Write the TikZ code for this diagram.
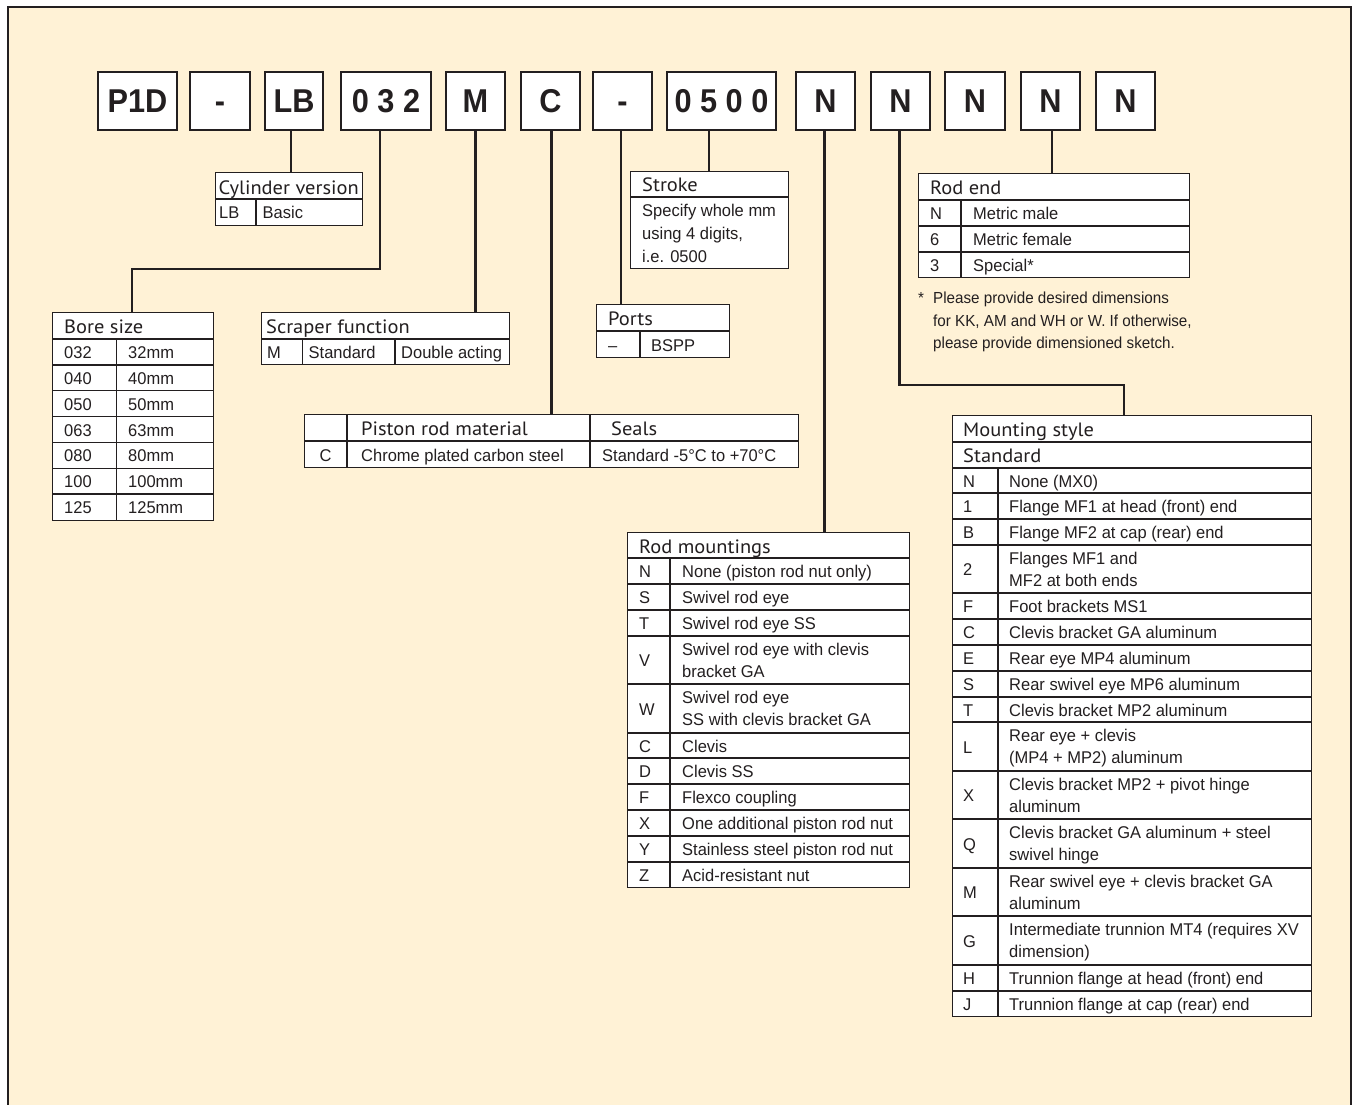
\documentclass[tikz,border=0pt]{standalone}
\usepackage{fontspec}
\newfontfamily\bodyf{Liberation Sans}[FakeStretch=0.97]
\newfontfamily\notef{Liberation Sans}[FakeStretch=0.95]
\newfontfamily\headf{PT Sans}[FakeStretch=1.06]
\newfontfamily\codef{Liberation Sans}[FakeStretch=0.93]
\definecolor{cream}{RGB}{255,242,214}
\definecolor{ink}{RGB}{35,31,32}
\newcounter{tc}
\newcommand\Tx[3]{\stepcounter{tc}\node[txt] (tx\arabic{tc}) at (#1,#2) {#3};}
\newcommand\Nt[3]{\stepcounter{tc}\node[ntxt] (tx\arabic{tc}) at (#1,#2) {#3};}
\newcommand\Hd[3]{\stepcounter{tc}\node[hdt] (tx\arabic{tc}) at (#1,#2) {#3};}
\tikzset{
  txt/.style={anchor=base west, inner sep=0pt, font=\bodyf\fontsize{17}{20}\selectfont, text=ink},
  ntxt/.style={anchor=base west, inner sep=0pt, font=\notef\fontsize{16}{19}\selectfont, text=ink},
  hdt/.style={anchor=base west, inner sep=0pt, font=\headf\fontsize{19.3}{22}\selectfont, text=ink},
  codebox/.style={draw=ink, line width=1.4pt, fill=white, minimum height=58pt, inner sep=0pt,
    font=\codef\bfseries\fontsize{33}{36}\selectfont, text=ink},
  tbl/.style={draw=ink, line width=1.3pt, fill=white, anchor=north west, inner sep=0pt},
  tl/.style={draw=ink, line width=1.3pt},
  con/.style={draw=ink, line width=2.6pt},
}
\begin{document}
\begin{tikzpicture}[x=1pt,y=-1pt]
\useasboundingbox (0,0) rectangle (1353,1105);
\fill[cream] (8,7) rectangle (1351,1120);
\draw[ink, line width=2pt] (8,1120) -- (8,7) -- (1351,7) -- (1351,1120);

% ---------- code boxes ----------
\node[codebox, minimum width=79pt]  (p1d)  at (137.5,101) {P1D\vphantom{P}};
\node[codebox, minimum width=60pt]  (d1)   at (220,101)   {-\vphantom{P}};
\node[codebox, minimum width=58pt]  (lb)   at (294,101)   {LB\vphantom{P}};
\node[codebox, minimum width=90pt]  (bore) at (386,101)   {0 3 2\vphantom{P}};
\node[codebox, minimum width=59pt]  (m)    at (475.5,101) {M\vphantom{P}};
\node[codebox, minimum width=59pt]  (c)    at (550.5,101) {C\vphantom{P}};
\node[codebox, minimum width=59pt]  (d2)   at (622.5,101) {-\vphantom{P}};
\node[codebox, minimum width=109pt] (strk) at (721.5,101) {0 5 0 0\vphantom{P}};
\node[codebox, minimum width=59pt]  (n1)   at (825.5,101) {N};
\node[codebox, minimum width=59pt]  (n2)   at (900.5,101) {N};
\node[codebox, minimum width=60pt]  (n3)   at (975,101)   {N};
\node[codebox, minimum width=59pt]  (n4)   at (1050.5,101){N};
\node[codebox, minimum width=59pt]  (n5)   at (1125.5,101){N};

% ---------- table outlines ----------
\node[tbl, minimum width=147pt, minimum height=53pt]  (cyl)   at (215,172) {};
\node[tbl, minimum width=158pt, minimum height=97pt]  (stk)   at (630,171) {};
\node[tbl, minimum width=271pt, minimum height=104pt] (rend)  at (918,173) {};
\node[tbl, minimum width=133pt, minimum height=53pt]  (ports) at (596,304) {};
\node[tbl, minimum width=161pt, minimum height=208pt] (bst)   at (52,312)  {};
\node[tbl, minimum width=248pt, minimum height=52pt]  (scr)   at (261,312) {};
\node[tbl, minimum width=494pt, minimum height=53pt]  (prm)   at (304,414) {};
\node[tbl, minimum width=282pt, minimum height=355pt] (rmt)   at (627,532) {};
\node[tbl, minimum width=359pt, minimum height=601pt] (mst)   at (952,415) {};

% ---------- connectors ----------
\coordinate (k1) at (380,269);
\coordinate (k2) at (132,269);
\coordinate (k3) at (899.5,385);
\coordinate (k4) at (1124,385);
\draw[con] ([xshift=-3pt]lb.south) -- ([xshift=-3pt]lb.south |- cyl.north);
\draw[con] ([xshift=-6pt]bore.south) -- (k1) -- (k2) -- (k2 |- bst.north);
\draw[con] (m.south) -- (m.south |- scr.north);
\draw[con] ([xshift=1pt]c.south) -- ([xshift=1pt]c.south |- prm.north);
\draw[con] ([xshift=-1.5pt]d2.south) -- ([xshift=-1.5pt]d2.south |- ports.north);
\draw[con] ([xshift=-12.5pt]strk.south) -- ([xshift=-12.5pt]strk.south |- stk.north);
\draw[con] ([xshift=-1pt]n1.south) -- ([xshift=-1pt]n1.south |- rmt.north);
\draw[con] ([xshift=-1pt]n2.south) -- (k3) -- (k4) -- (k4 |- mst.north);
\draw[con] ([xshift=1.5pt]n4.south) -- ([xshift=1.5pt]n4.south |- rend.north);

% ---------- Cylinder version ----------
\draw[tl] (215,199) -- (362,199);
\draw[tl] (256,199) -- (256,225);
\Hd{218.5}{195}{Cylinder version}
\Tx{219}{218.5}{LB}
\Tx{262.5}{218.5}{Basic}

% ---------- Stroke ----------
\draw[tl] (630,197) -- (788,197);
\Hd{642}{192}{Stroke}
\Tx{642}{216.5}{Specify whole mm}
\Tx{642}{239.5}{using 4 digits,}
\Tx{642}{262.5}{i.e. 0500}

% ---------- Rod end ----------
\draw[tl] (918,200) -- (1189,200);
\draw[tl] (918,226) -- (1189,226);
\draw[tl] (918,252) -- (1189,252);
\draw[tl] (961,200) -- (961,277);
\Hd{930}{194.5}{Rod end}
\Tx{930}{219.5}{N}   \Tx{973}{219.5}{Metric male}
\Tx{930}{245.5}{6}   \Tx{973}{245.5}{Metric female}
\Tx{930}{271}{3}     \Tx{973}{271}{Special*}
\Nt{918}{303}{*}
\Nt{933}{303}{Please provide desired dimensions}
\Nt{933}{326}{for KK, AM and WH or W. If otherwise,}
\Nt{933}{348}{please provide dimensioned sketch.}

% ---------- Ports ----------
\draw[tl] (596,331) -- (729,331);
\draw[tl] (640,331) -- (640,357);
\Hd{608}{325}{Ports}
\Tx{608}{351}{–}
\Tx{651}{351}{BSPP}

% ---------- Bore size ----------
\draw[tl] (52,339) -- (213,339);
\foreach \yy in {364.9,390.7,416.6,442.4,468.3,494.1} {\draw[tl] (52,\yy) -- (213,\yy);}
\draw[tl] (116.5,339) -- (116.5,520);
\Hd{64}{333}{Bore size}
\Tx{64}{358.4}{032} \Tx{128}{358.4}{32mm}
\Tx{64}{384.3}{040} \Tx{128}{384.3}{40mm}
\Tx{64}{410.1}{050} \Tx{128}{410.1}{50mm}
\Tx{64}{436}{063}   \Tx{128}{436}{63mm}
\Tx{64}{461.9}{080} \Tx{128}{461.9}{80mm}
\Tx{64}{487.7}{100} \Tx{128}{487.7}{100mm}
\Tx{64}{513.6}{125} \Tx{128}{513.6}{125mm}

% ---------- Scraper function ----------
\draw[tl] (261,339) -- (509,339);
\draw[tl] (302.5,339) -- (302.5,364);
\draw[tl] (395,339) -- (395,364);
\Hd{266}{333}{Scraper function}
\Tx{267}{358.5}{M}
\Tx{308.5}{358.5}{Standard}
\Tx{401}{358.5}{Double acting}

% ---------- Piston rod material ----------
\draw[tl] (304,441) -- (798,441);
\draw[tl] (347,414) -- (347,467);
\draw[tl] (590,414) -- (590,467);
\Hd{361}{435.5}{Piston rod material}
\Hd{611}{435.5}{Seals}
\stepcounter{tc}\node[txt, anchor=base] (tx\arabic{tc}) at (325.5,461.5) {C};
\Tx{361}{461.5}{Chrome plated carbon steel}
\Tx{602}{461.5}{Standard -5°C to +70°C}

% ---------- Rod mountings ----------
\draw[tl] (627,558) -- (909,558);
\foreach \yy in {584,610,636,684,733,758,784,810,836,862} {\draw[tl] (627,\yy) -- (909,\yy);}
\draw[tl] (670,558) -- (670,887);
\Hd{639}{553}{Rod mountings}
\Tx{639}{577.5}{N} \Tx{682}{577.5}{None (piston rod nut only)}
\Tx{639}{603.5}{S} \Tx{682}{603.5}{Swivel rod eye}
\Tx{639}{629.5}{T} \Tx{682}{629.5}{Swivel rod eye SS}
\Tx{639}{666.5}{V} \Tx{682}{655}{Swivel rod eye with clevis} \Tx{682}{677}{bracket GA}
\Tx{639}{715}{W}   \Tx{682}{703.5}{Swivel rod eye} \Tx{682}{725.5}{SS with clevis bracket GA}
\Tx{639}{752}{C}   \Tx{682}{752}{Clevis}
\Tx{639}{777.5}{D} \Tx{682}{777.5}{Clevis SS}
\Tx{639}{803.5}{F} \Tx{682}{803.5}{Flexco coupling}
\Tx{639}{829.5}{X} \Tx{682}{829.5}{One additional piston rod nut}
\Tx{639}{855.5}{Y} \Tx{682}{855.5}{Stainless steel piston rod nut}
\Tx{639}{881}{Z}   \Tx{682}{881}{Acid-resistant nut}

% ---------- Mounting style ----------
\draw[tl] (952,442) -- (1311,442);
\draw[tl] (952,468) -- (1311,468);
\foreach \yy in {493,519,545,593,619,645,671,697,722,771,819,868,916,965,991} {\draw[tl] (952,\yy) -- (1311,\yy);}
\draw[tl] (998,468) -- (998,1016);
\Hd{963}{436}{Mounting style}
\Hd{963}{462}{Standard}
\Tx{963}{487}{N}   \Tx{1009}{487}{None (MX0)}
\Tx{963}{512.5}{1} \Tx{1009}{512.5}{Flange MF1 at head (front) end}
\Tx{963}{538.5}{B} \Tx{1009}{538.5}{Flange MF2 at cap (rear) end}
\Tx{963}{575.5}{2} \Tx{1009}{564}{Flanges MF1 and} \Tx{1009}{586}{MF2 at both ends}
\Tx{963}{612.5}{F} \Tx{1009}{612.5}{Foot brackets MS1}
\Tx{963}{638.5}{C} \Tx{1009}{638.5}{Clevis bracket GA aluminum}
\Tx{963}{664.5}{E} \Tx{1009}{664.5}{Rear eye MP4 aluminum}
\Tx{963}{690.5}{S} \Tx{1009}{690.5}{Rear swivel eye MP6 aluminum}
\Tx{963}{716}{T}   \Tx{1009}{716}{Clevis bracket MP2 aluminum}
\Tx{963}{753}{L}   \Tx{1009}{741.5}{Rear eye + clevis} \Tx{1009}{763.5}{(MP4 + MP2) aluminum}
\Tx{963}{801.5}{X} \Tx{1009}{790}{Clevis bracket MP2 + pivot hinge} \Tx{1009}{812}{aluminum}
\Tx{963}{850}{Q}   \Tx{1009}{838.5}{Clevis bracket GA aluminum + steel} \Tx{1009}{860.5}{swivel hinge}
\Tx{963}{898.5}{M} \Tx{1009}{887}{Rear swivel eye + clevis bracket GA} \Tx{1009}{909}{aluminum}
\Tx{963}{947}{G}   \Tx{1009}{935.5}{Intermediate trunnion MT4 (requires XV} \Tx{1009}{957.5}{dimension)}
\Tx{963}{984.5}{H} \Tx{1009}{984.5}{Trunnion flange at head (front) end}
\Tx{963}{1010}{J}  \Tx{1009}{1010}{Trunnion flange at cap (rear) end}
\end{tikzpicture}
\end{document}
